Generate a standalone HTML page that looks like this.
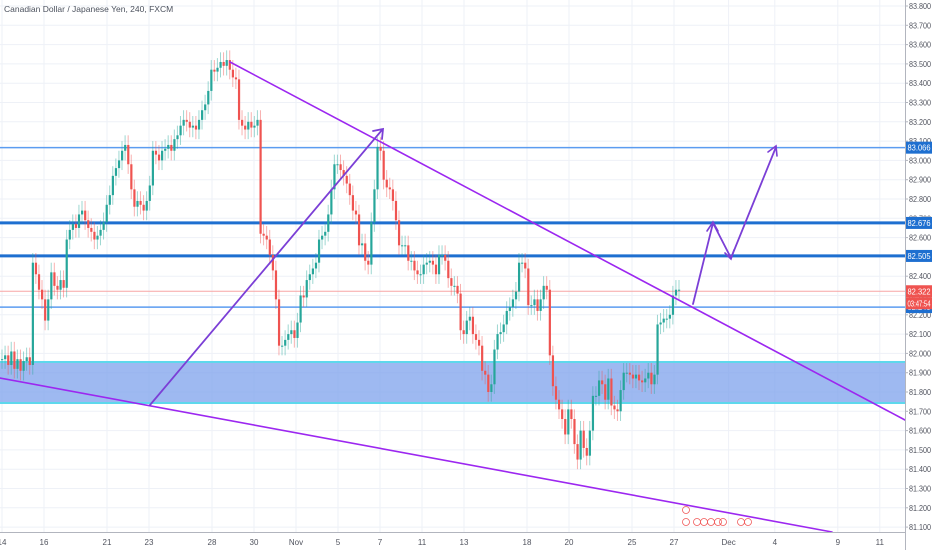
<!DOCTYPE html>
<html><head><meta charset="utf-8">
<style>
html,body{margin:0;padding:0;background:#fff;}
svg{display:block;font-family:"Liberation Sans",sans-serif;}
</style></head>
<body>
<svg id="chart" width="932" height="550" viewBox="0 0 932 550" xmlns="http://www.w3.org/2000/svg">
<g id="grid"></g>
<rect x="0" y="362" width="905" height="41" fill="#7ea1ec" fill-opacity="0.75"/>
<line x1="0" y1="362" x2="905" y2="362" stroke="#5ed8ec" stroke-width="2"/>
<line x1="0" y1="403" x2="905" y2="403" stroke="#5ed8ec" stroke-width="2"/>
<g id="levels"></g>
<g id="candles"></g>
<g fill="none" stroke-linecap="round">
  <line x1="230" y1="62" x2="905" y2="420" stroke="#9c27f0" stroke-width="1.6"/>
  <line x1="0" y1="378" x2="832" y2="532" stroke="#9c27f0" stroke-width="1.6"/>
  <polyline points="150,405 382,130" stroke="#7b3fd6" stroke-width="1.8"/>
  <polyline points="373,131 383,129 382,139" stroke="#7b3fd6" stroke-width="1.8"/>
  <polyline points="693,304 713,223 731,258 776,147" stroke="#7b3fd6" stroke-width="1.8"/>
  <polyline points="707,231 713,222 718,231" stroke="#7b3fd6" stroke-width="1.6"/>
  <polyline points="725,253 731,259 734,250" stroke="#7b3fd6" stroke-width="1.6"/>
  <polyline points="768,152 776,146 777,156" stroke="#7b3fd6" stroke-width="1.6"/>
</g>
<g fill="none" stroke="#f05a5a" stroke-width="0.8">
  <circle cx="686" cy="510" r="3.5"/><circle cx="686" cy="522" r="3.5"/><circle cx="697" cy="522" r="3.5"/>
  <circle cx="704" cy="522" r="3.5"/><circle cx="711" cy="522" r="3.5"/><circle cx="718" cy="522" r="3.5"/>
  <circle cx="723" cy="522" r="3.5"/><circle cx="741" cy="522" r="3.5"/><circle cx="748" cy="522" r="3.5"/>
</g>
<line x1="905.5" y1="0" x2="905.5" y2="550" stroke="#b2b5be"/>
<line x1="0" y1="532.5" x2="905" y2="532.5" stroke="#b2b5be"/>
<g id="yaxis" font-size="8" fill="#50535e"></g>
<g id="xaxis" font-size="8" fill="#50535e"></g>
<g id="tags" font-size="8"></g>
<text x="4" y="12" font-size="8.5" fill="#4c525e">Canadian Dollar / Japanese Yen, 240, FXCM</text>
</svg>
<script>
const tickPrices = [83.8,83.7,83.6,83.5,83.4,83.3,83.2,83.1,83.0,82.9,82.8,82.7,82.6,82.5,82.4,82.3,82.2,82.1,82.0,81.9,81.8,81.7,81.6,81.5,81.4,81.3,81.2,81.1];
const dateLabels = ["14","16","21","23","28","30","Nov","5","7","11","13","18","20","25","27","Dec","4","9","11"];
const dateSlots = [0,2,5,7,10,12,14,16,18,20,22,25,27,30,32,34.6,36.8,39.8,41.8];
const levelPrices = [83.066,82.676,82.505,82.240];
const levelWeights = [1.5,3,3,1.5];
const lastPrice = 82.322;
const closes = [81.97,81.99,81.94,82.01,81.92,81.97,81.91,81.96,81.98,81.94,
82.47,
82.41,82.33,82.28,82.17,82.28,82.42,82.35,82.33,82.38,82.34,
82.59,82.64,82.67,82.65,82.72,82.74,82.69,82.65,82.63,82.59,82.61,82.64,
82.68,82.77,82.82,82.92,82.96,83.00,83.05,
83.08,82.98,82.85,82.76,82.79,82.77,82.74,82.79,82.87,
83.05,83.03,83.00,83.05,83.06,83.08,83.05,83.11,83.13,83.18,83.21,83.20,83.17,83.18,83.16,83.21,83.26,83.29,
83.36,83.47,83.46,83.48,83.51,83.49,83.52,83.47,83.43,83.42,
83.21,83.18,83.16,83.20,83.17,83.18,83.21,
82.62,82.61,82.59,82.51,82.43,82.28,82.04,
82.04,82.07,82.10,82.12,82.08,82.16,
82.30,82.29,82.38,82.41,82.44,82.47,82.59,82.61,82.63,82.72,82.85,82.98,82.98,82.95,82.92,82.88,82.82,82.74,82.72,82.56,82.57,82.48,82.46,82.68,82.85,83.07,83.05,82.90,82.86,82.85,82.79,82.69,82.56,82.56,82.56,82.48,82.48,82.43,82.41,82.41,82.46,82.47,82.48,82.46,82.41,82.51,82.51,82.48,82.39,82.35,82.35,82.31,82.12,82.10,82.17,82.19,82.10,82.07,82.04,81.91,81.89,81.80,81.84,82.02,82.10,82.11,82.15,82.22,82.24,82.28,82.32,82.47,82.47,82.44,82.25,82.25,82.28,82.22,82.28,82.35,82.33,81.99,81.83,81.76,81.71,81.66,81.58,81.71,81.66,81.53,81.45,81.60,81.51,81.47,81.60,81.78,81.78,81.86,81.84,81.76,81.87,81.73,81.71,81.70,81.81,81.90,81.90,81.89,81.87,81.89,81.86,81.85,81.87,81.90,81.84,81.89,82.15,82.16,82.18,82.18,82.20,82.30,82.33,82.33];

const NS="http://www.w3.org/2000/svg";
function y(p){return 6+(83.8-p)*193;}
function slotX(s){return 2+s*21;}
const N=closes.length;
function cx(i){return 2+i*(677/(N-1));}
function mk(tag,attrs,parent){const e=document.createElementNS(NS,tag);for(const k in attrs)e.setAttribute(k,attrs[k]);parent.appendChild(e);return e;}

const grid=document.getElementById('grid');
tickPrices.forEach(p=>{
  const l=mk('line',{x1:0,x2:905,y1:y(p),y2:y(p),stroke:'#eef1f7','stroke-width':1},grid);
  
  
});
dateSlots.forEach(s=>{
  const l=mk('line',{x1:slotX(s),x2:slotX(s),y1:0,y2:532,stroke:'#eef1f7','stroke-width':1},grid);
  
  
});

const lv=document.getElementById('levels');
levelPrices.forEach((p,i)=>{
  const l=mk('line',{x1:0,x2:905,y1:y(p),y2:y(p),stroke:levelWeights[i]>2?'#1e6fd0':'#5b9cf0','stroke-width':levelWeights[i]},lv);
  
  
});
const ll=mk('line',{x1:0,x2:905,y1:y(lastPrice),y2:y(lastPrice),stroke:'#f7a5a5','stroke-width':1},lv);



const cg=document.getElementById('candles');
for(let i=0;i<N;i++){
  const c=closes[i], o=i?closes[i-1]:c;
  const up=c>=o, col=up?'#26a69a':'#ef5350';
  const hi=Math.max(o,c)+0.05, lo=Math.min(o,c)-0.05;
  const x=cx(i);
  const w=mk('line',{x1:x,x2:x,y1:y(hi),y2:y(lo),stroke:col,'stroke-opacity':0.45,'stroke-width':1},cg);
  
  
  const top=y(Math.max(o,c)), h=Math.max(1,y(Math.min(o,c))-top);
  const b=mk('rect',{x:x-1,y:top,width:2.2,height:h,fill:col},cg);
  
  
}

const ya=document.getElementById('yaxis');
tickPrices.forEach(p=>{
  const t=mk('line',{x1:905,x2:908,y1:y(p),y2:y(p),stroke:'#b2b5be'},ya);
  
  
  const tx=mk('text',{x:909,y:y(p)+3,textLength:22,lengthAdjust:'spacingAndGlyphs'},ya);
  tx.textContent=p.toFixed(3);
  
  
});
const xa=document.getElementById('xaxis');
dateLabels.forEach((d,i)=>{
  const tx=mk('text',{x:slotX(dateSlots[i]),y:545,'text-anchor':'middle'},xa);
  tx.textContent=d;
  
  
});

const tg=document.getElementById('tags');
function tag(p,txt,bg,dy){
  const yy=y(p)+(dy||0);
  const r=mk('rect',{x:906,y:yy-6,width:26,height:12,fill:bg},tg);
  
  
  const t=mk('text',{x:907.5,y:yy+3,fill:'#fff',textLength:23,lengthAdjust:'spacingAndGlyphs'},tg);
  t.textContent=txt;
  
  
}
levelPrices.forEach(p=>tag(p,p.toFixed(3),'#1e6fd0'));
tag(lastPrice,lastPrice.toFixed(3),'#ef5350');
tag(lastPrice,'03:47:54','#ef5350',12);
</script>
</body></html>
